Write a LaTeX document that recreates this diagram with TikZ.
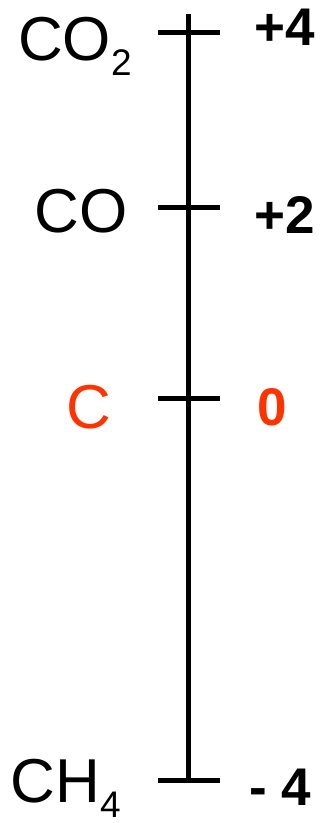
\documentclass[tikz,border=0pt]{standalone}
\usepackage{fontspec}
\setmainfont{Liberation Sans}
\usetikzlibrary{positioning}
\definecolor{carbonred}{RGB}{255,51,0}
\newcommand{\chemsub}[1]{\raisebox{-0.25em}{\fontsize{37}{37}\selectfont #1}}

\begin{document}
\begin{tikzpicture}[
  x=1pt, y=1pt,
  species/.style={anchor=base east, inner sep=0pt, font=\fontsize{62}{62}\selectfont},
  oxnum/.style={anchor=base west, inner sep=0pt, font=\fontsize{53}{53}\selectfont\bfseries},
  scaleline/.style={draw, line width=5pt}
]
\useasboundingbox (0,0) rectangle (322,-823);

% the scale and its ticks
\coordinate (top) at (188,-14);
\coordinate (bottom) at (188,-780);
\draw[scaleline] (top) -- (bottom);
\foreach \name/\y in {co2/32, co/207, c/398, ch4/780} {
  \coordinate (\name-l) at (158,-\y);
  \coordinate (\name-r) at (220,-\y);
  \draw[scaleline] (\name-l) -- (\name-r);
}

% species
\node[species] (co2) at (132,-60) {CO\chemsub{2}};
\node[species] (co) at (128,-232) {CO};
\node[species, text=carbonred] (c) at (111,-428) {C};
\node[species] (ch4) at (121,-802) {CH\chemsub{4}};

% oxidation numbers
\node[oxnum] (n4) at (254,-45) {+4};
\node[oxnum] (n2) at (254,-233) {+2};
\node[oxnum, text=carbonred] (n0) at (257,-425) {0};
\node[oxnum] (nm4) at (249,-805) {- 4};
\end{tikzpicture}
\end{document}
